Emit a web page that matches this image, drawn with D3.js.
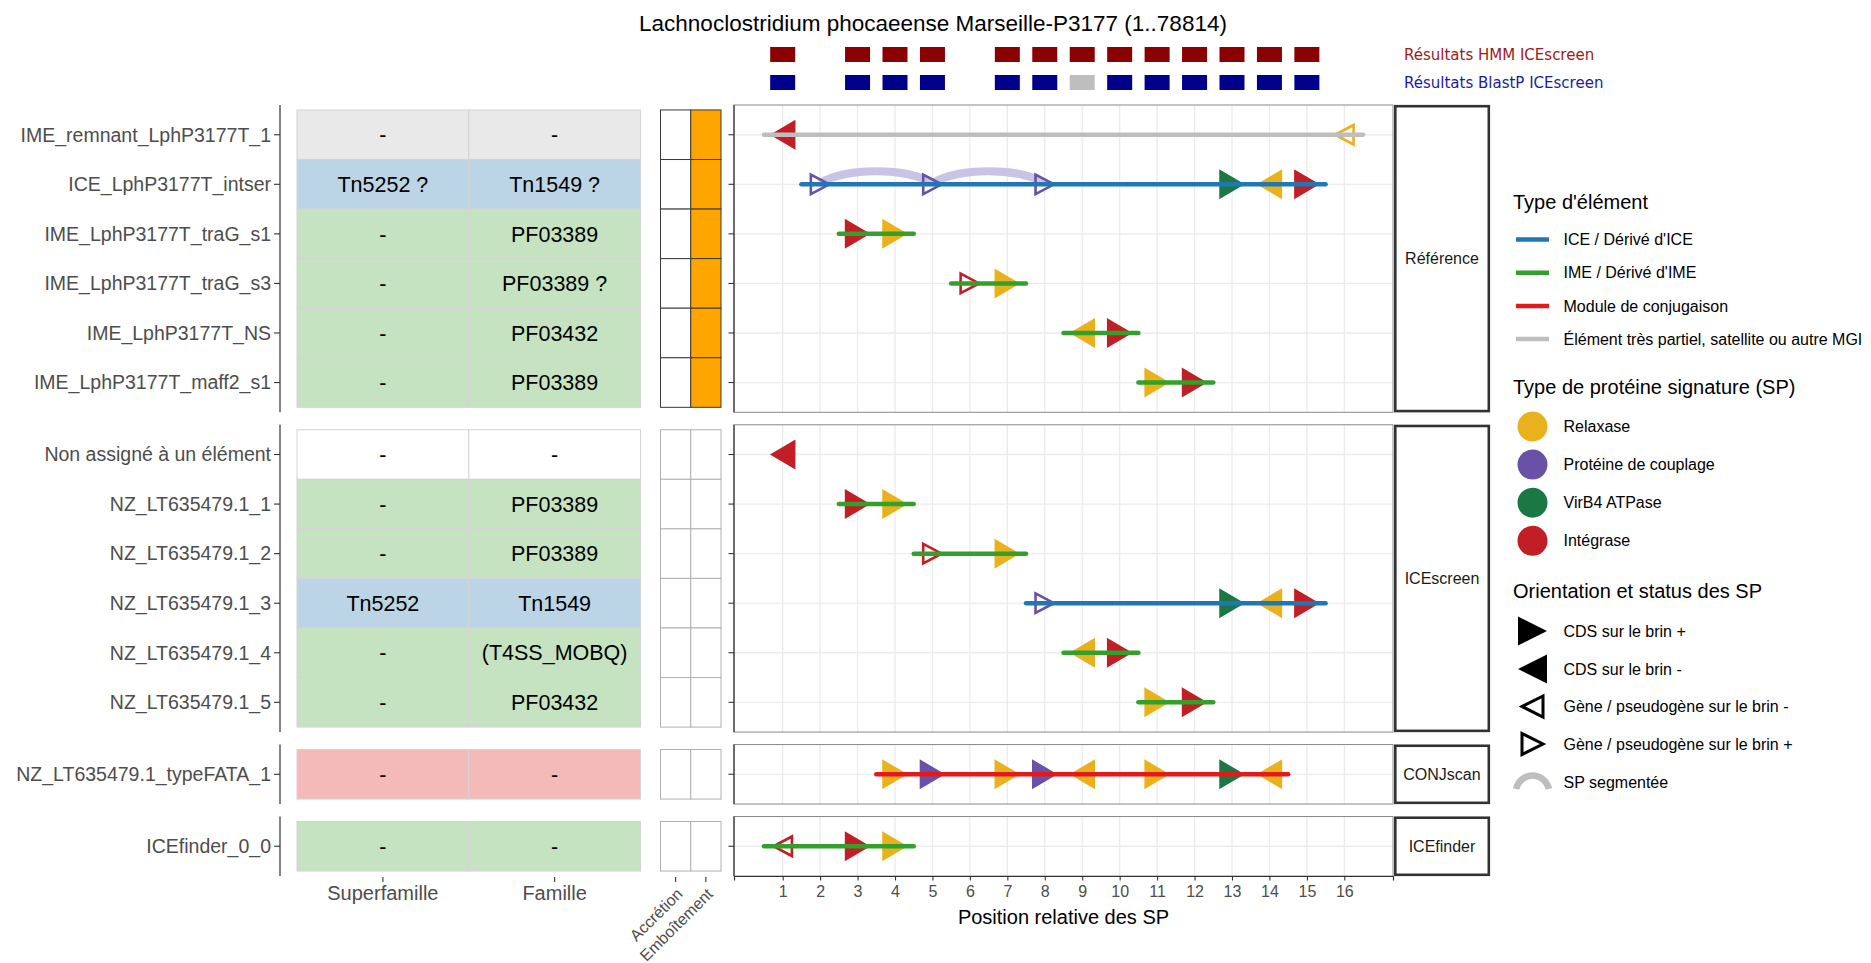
<!DOCTYPE html>
<html><head><meta charset="utf-8">
<script src="https://cdn.jsdelivr.net/npm/d3@7"></script>
<style>
body{margin:0;background:#fff}
svg{display:block}
text{font-family:"Liberation Sans",Arial,Helvetica,sans-serif}
</style>
</head><body>
<svg id="chart" width="1871" height="963"></svg>
<script>
// ---------------- DATA ----------------
const chartTitle = "Lachnoclostridium phocaeense Marseille-P3177 (1..78814)";
const panelNames = ["Référence", "ICEscreen", "CONJscan", "ICEfinder"];

const elementNames = [
  "IME_remnant_LphP3177T_1", "ICE_LphP3177T_intser", "IME_LphP3177T_traG_s1",
  "IME_LphP3177T_traG_s3", "IME_LphP3177T_NS", "IME_LphP3177T_maff2_s1",
  "Non assigné à un élément", "NZ_LT635479.1_1", "NZ_LT635479.1_2",
  "NZ_LT635479.1_3", "NZ_LT635479.1_4", "NZ_LT635479.1_5",
  "NZ_LT635479.1_typeFATA_1", "ICEfinder_0_0"
];
const elementPanels = [
  "Référence","Référence","Référence","Référence","Référence","Référence",
  "ICEscreen","ICEscreen","ICEscreen","ICEscreen","ICEscreen","ICEscreen",
  "CONJscan","ICEfinder"
];
const elementTypes = ["partiel","ICE","IME","IME","IME","IME","aucun","IME","IME","ICE","IME","IME","module","IME"];
const superfamilles = ["-","Tn5252 ?","-","-","-","-","-","-","-","Tn5252","-","-","-","-"];
const familles = ["-","Tn1549 ?","PF03389","PF03389 ?","PF03432","PF03389","-","PF03389","PF03389","Tn1549","(T4SS_MOBQ)","PF03432","-","-"];
const accretion   = [0,0,0,0,0,0, 0,0,0,0,0,0, 0, 0];
const emboitement = [1,1,1,1,1,1, 0,0,0,0,0,0, 0, 0];

const lineStarts = [0.5, 1.5, 2.5, 5.5, 8.5, 10.5, null, 2.5, 4.5, 7.5, 8.5, 10.5, 3.5, 0.5];
const lineEnds   = [16.5, 15.5, 4.5, 7.5, 10.5, 12.5, null, 4.5, 7.5, 15.5, 10.5, 12.5, 14.5, 4.5];

// signature proteins
const spElements  = [0,0, 1,1,1,1,1,1, 2,2, 3,3, 4,4, 5,5, 6, 7,7, 8,8, 9,9,9,9, 10,10, 11,11, 12,12,12,12,12,12,12,12, 13,13,13];
const spPositions = [1,16, 2,5,8,13,14,15, 3,4, 6,7, 9,10, 11,12, 1, 3,4, 5,7, 8,13,14,15, 9,10, 11,12, 4,5,7,8,9,11,13,14, 1,3,4];
const spTypes = [
  "Int","Rel", "Coup","Coup","Coup","VirB4","Rel","Int", "Int","Rel", "Int","Rel", "Rel","Int", "Rel","Int",
  "Int", "Int","Rel", "Int","Rel", "Coup","VirB4","Rel","Int", "Rel","Int", "Rel","Int",
  "Rel","Coup","Rel","Coup","Rel","Rel","VirB4","Rel", "Int","Int","Rel"
];
const spStrands = [
  "-","-", "+","+","+","+","-","+", "+","+", "+","+", "-","+", "+","+",
  "-", "+","+", "+","+", "+","+","-","+", "-","+", "+","+",
  "+","+","+","+","-","+","+","-", "-","+","+"
];
const spStatuses = [
  "CDS","gene", "gene","gene","gene","CDS","CDS","CDS", "CDS","CDS", "gene","CDS", "CDS","CDS", "CDS","CDS",
  "CDS", "CDS","CDS", "gene","CDS", "gene","CDS","CDS","CDS", "CDS","CDS", "CDS","CDS",
  "CDS","CDS","CDS","CDS","CDS","CDS","CDS","CDS", "gene","CDS","CDS"
];
// segmented SP links
const segElements = [1, 1];
const segFrom = [2, 5];
const segTo = [5, 8];

// header
const hmmPositions = [1,3,4,5,7,8,9,10,11,12,13,14,15];
const blastPositions = [1,3,4,5,7,8,9,10,11,12,13,14,15];
const blastFound = [1,1,1,1,1,1,0,1,1,1,1,1,1];
const headerLabels = ["Résultats HMM ICEscreen", "Résultats BlastP ICEscreen"];

const xTickValues = [1,2,3,4,5,6,7,8,9,10,11,12,13,14,15,16];
const xDomain = [0.5, 16.5];
const xAxisTitle = "Position relative des SP";
const tableColumns = ["Superfamille", "Famille"];
const nestColumns = ["Accrétion", "Emboîtement"];

const elementLegendKeys = ["ICE", "IME", "module", "partiel"];
const elementLegendLabels = ["ICE / Dérivé d'ICE", "IME / Dérivé d'IME", "Module de conjugaison", "Élément très partiel, satellite ou autre MGI"];
const spLegendKeys = ["Rel", "Coup", "VirB4", "Int"];
const spLegendLabels = ["Relaxase", "Protéine de couplage", "VirB4 ATPase", "Intégrase"];
const orientLegendLabels = ["CDS sur le brin +", "CDS sur le brin -", "Gène / pseudogène sur le brin -", "Gène / pseudogène sur le brin +", "SP segmentée"];
const legendTitles = ["Type d'élément", "Type de protéine signature (SP)", "Orientation et status des SP"];

// ---------------- STYLES ----------------
const lineColor = {ICE:"#1f78b4", IME:"#33a02c", module:"#e31a1c", partiel:"#bebebe"};
const tileColor = {ICE:"#bcd5e6", IME:"#c5e3c0", module:"#f4b9b9", partiel:"#e9e9e9", aucun:"#ffffff"};
const spColor = {Rel:"#e9b11c", Coup:"#6851a6", VirB4:"#1b7844", Int:"#c11e26"};

const svg = d3.select("#chart");

// ---------------- LAYOUT ----------------
const plotL = 734, plotR = 1393, stripR = 1490;
const topY = 105, botY = 876, gap = 12.5;
const counts = panelNames.map(p => elementPanels.filter(e => e === p).length);
const totalUnits = d3.sum(counts, c => c + 0.2);
const unit = (botY - topY - gap * (panelNames.length - 1)) / totalUnits;

const x = d3.scaleLinear()
  .domain([xDomain[0] - 0.05*(xDomain[1]-xDomain[0]), xDomain[1] + 0.05*(xDomain[1]-xDomain[0])])
  .range([plotL, plotR]);
const colX = d3.scaleBand().domain(tableColumns).range([297, 640.5]);
const nestX = d3.scaleBand().domain(nestColumns).range([660.5, 721]);

let cursor = topY;
const panelGeom = panelNames.map((p, i) => {
  const h = (counts[i] + 0.2) * unit;
  const rows = elementNames.filter((n, j) => elementPanels[j] === p);
  const y = d3.scalePoint().domain(rows).range([cursor, cursor + h]).padding(0.6);
  const g = {name: p, top: cursor, bottom: cursor + h, y, rows};
  cursor += h + gap;
  return g;
});
const yOf = j => panelGeom[panelNames.indexOf(elementPanels[j])].y(elementNames[j]);

function tri(cx, cy, w, h, dir) {
  const x0 = cx - dir * w / 2, x1 = cx + dir * w / 2;
  return `M${x0},${cy - h/2}L${x1},${cy}L${x0},${cy + h/2}Z`;
}

// ---------------- TITLE & HEADER ----------------
svg.append("text").attr("x", 933).attr("y", 23).attr("dy", "0.35em")
  .attr("text-anchor", "middle").attr("font-size", 22.5).attr("fill", "#000").text(chartTitle);

svg.append("g").selectAll("rect").data(hmmPositions).join("rect")
  .attr("x", d => x(d) - 12.5).attr("y", 47).attr("width", 25).attr("height", 15)
  .attr("fill", "#8b0000");
svg.append("g").selectAll("rect").data(blastPositions).join("rect")
  .attr("x", d => x(d) - 12.5).attr("y", 75).attr("width", 25).attr("height", 15)
  .attr("fill", (d, i) => blastFound[i] ? "#00008b" : "#bebebe");
svg.append("text").attr("x", 1404).attr("y", 54.5).attr("dy", "0.35em")
  .attr("font-size", 15).style("font-family", "DejaVu Sans").attr("fill", "#9b1b1b").text(headerLabels[0]);
svg.append("text").attr("x", 1404).attr("y", 82.5).attr("dy", "0.35em")
  .attr("font-size", 15).style("font-family", "DejaVu Sans").attr("fill", "#1c1ca0").text(headerLabels[1]);

// ---------------- TABLE ----------------
panelGeom.forEach((pg, pi) => {
  const g = svg.append("g");
  const idx = elementNames.map((n, j) => j).filter(j => elementPanels[j] === pg.name);
  // tiles
  idx.forEach(j => {
    const yc = yOf(j);
    [superfamilles[j], familles[j]].forEach((val, c) => {
      g.append("rect").attr("x", colX(tableColumns[c])).attr("y", yc - unit/2)
        .attr("width", colX.bandwidth()).attr("height", unit)
        .attr("fill", tileColor[elementTypes[j]]).attr("stroke", "#d4d4d4").attr("stroke-width", 1);
      g.append("text").attr("x", colX(tableColumns[c]) + colX.bandwidth()/2).attr("y", yc)
        .attr("dy", "0.36em").attr("text-anchor", "middle").attr("font-size", 21.5).attr("fill", "#000").text(val);
    });
    [accretion[j], emboitement[j]].forEach((val, c) => {
      g.append("rect").attr("x", nestX(nestColumns[c])).attr("y", yc - unit/2)
        .attr("width", nestX.bandwidth()).attr("height", unit)
        .attr("fill", val ? "#ffa500" : "#fff")
        .attr("stroke", pi === 0 ? "#3a3a3a" : "#b0b0b0").attr("stroke-width", 1);
    });
    // row label + tick
    g.append("text").attr("x", 271).attr("y", yc).attr("dy", "0.35em").attr("text-anchor", "end")
      .attr("font-size", 19.5).attr("fill", "#4d4d4d").text(elementNames[j]);
    g.append("line").attr("x1", 274).attr("x2", 280).attr("y1", yc).attr("y2", yc)
      .attr("stroke", "#333").attr("stroke-width", 1.1);
  });
  g.append("line").attr("x1", 280).attr("x2", 280).attr("y1", pg.top).attr("y2", pg.bottom)
    .attr("stroke", "#333").attr("stroke-width", 1.2);
});
// table bottom labels
tableColumns.forEach(c => {
  const cx = colX(c) + colX.bandwidth()/2;
  svg.append("line").attr("x1", cx).attr("x2", cx).attr("y1", botY + 1).attr("y2", botY + 6).attr("stroke", "#333").attr("stroke-width", 1.1);
  svg.append("text").attr("x", cx).attr("y", 893).attr("dy", "0.35em").attr("text-anchor", "middle")
    .attr("font-size", 20).attr("fill", "#4d4d4d").text(c);
});
nestColumns.forEach(c => {
  const cx = nestX(c) + nestX.bandwidth()/2;
  svg.append("line").attr("x1", cx).attr("x2", cx).attr("y1", botY + 1).attr("y2", botY + 6).attr("stroke", "#333").attr("stroke-width", 1.1);
  svg.append("text").attr("transform", `translate(${cx + 8},${895}) rotate(-45)`)
    .attr("text-anchor", "end").attr("font-size", 16).attr("fill", "#4d4d4d").text(c);
});

// ---------------- MAIN PANELS ----------------
panelGeom.forEach((pg, pi) => {
  const g = svg.append("g");
  g.append("rect").attr("x", plotL).attr("y", pg.top).attr("width", plotR - plotL).attr("height", pg.bottom - pg.top).attr("fill", "#fff");
  // grid
  g.selectAll(".vg").data(xTickValues).join("line")
    .attr("x1", d => x(d)).attr("x2", d => x(d)).attr("y1", pg.top).attr("y2", pg.bottom)
    .attr("stroke", "#ebebeb").attr("stroke-width", 1.3);
  g.selectAll(".hg").data(pg.rows).join("line")
    .attr("x1", plotL).attr("x2", plotR).attr("y1", d => pg.y(d)).attr("y2", d => pg.y(d))
    .attr("stroke", "#ebebeb").attr("stroke-width", 1.3);

  const idx = elementNames.map((n, j) => j).filter(j => elementPanels[j] === pg.name);
  // segmented SP arcs
  segElements.forEach((e, k) => {
    if (!idx.includes(e)) return;
    const yc = yOf(e), x0 = x(segFrom[k]), x1 = x(segTo[k]), d = x1 - x0;
    g.append("path").attr("d", `M${x0},${yc - 1}C${x0 + 0.22*d},${yc - 17} ${x1 - 0.22*d},${yc - 17} ${x1},${yc - 1}`)
      .attr("fill", "none").attr("stroke", "#cbc3e3").attr("stroke-width", 8);
  });
  // SP markers
  spElements.forEach((e, k) => {
    if (!idx.includes(e)) return;
    const yc = yOf(e), cx = x(spPositions[k]), dir = spStrands[k] === "+" ? 1 : -1;
    if (spStatuses[k] === "CDS") {
      g.append("path").attr("d", tri(cx, yc, 25.5, 30, dir)).attr("fill", spColor[spTypes[k]]);
    } else {
      g.append("path").attr("d", tri(cx, yc, 18.5, 19.5, dir)).attr("fill", "none")
        .attr("stroke", spColor[spTypes[k]]).attr("stroke-width", 2.6);
    }
  });
  // element lines
  idx.forEach(j => {
    if (lineStarts[j] === null) return;
    g.append("line").attr("x1", x(lineStarts[j])).attr("x2", x(lineEnds[j])).attr("y1", yOf(j)).attr("y2", yOf(j))
      .attr("stroke", lineColor[elementTypes[j]]).attr("stroke-width", 4.5).attr("stroke-linecap", "round");
  });
  // border
  g.append("rect").attr("x", plotL).attr("y", pg.top).attr("width", plotR - plotL).attr("height", pg.bottom - pg.top)
    .attr("fill", "none").attr("stroke", "#8a8a8a").attr("stroke-width", 1);
  g.append("line").attr("x1", plotL).attr("x2", plotL).attr("y1", pg.top).attr("y2", pg.bottom).attr("stroke", "#333").attr("stroke-width", 1.2);
  g.selectAll(".yt").data(pg.rows).join("line")
    .attr("x1", plotL - 5.5).attr("x2", plotL).attr("y1", d => pg.y(d)).attr("y2", d => pg.y(d))
    .attr("stroke", "#333").attr("stroke-width", 1.1);
  // strip
  g.append("rect").attr("x", plotR + 2.3).attr("y", pg.top + 1.2).attr("width", stripR - plotR - 3.5).attr("height", pg.bottom - pg.top - 2.4)
    .attr("fill", "#fff").attr("stroke", "#333").attr("stroke-width", 2.6);
  g.append("text").attr("x", (plotR + stripR)/2 + 0.5).attr("y", (pg.top + pg.bottom)/2).attr("dy", "0.35em")
    .attr("text-anchor", "middle").attr("font-size", 16).attr("fill", "#1a1a1a").text(pg.name);
});

// x axis
const xAxisG = svg.append("g").attr("transform", `translate(0,${botY})`)
  .call(d3.axisBottom(x).tickValues(xTickValues).tickSize(4.5).tickPadding(5).tickFormat(d3.format("d")));
xAxisG.select(".domain").attr("stroke", "#333").attr("stroke-width", 1.2);
xAxisG.selectAll(".tick line").attr("stroke", "#333").attr("stroke-width", 1.1);
xAxisG.selectAll(".tick text").attr("font-size", 16).attr("fill", "#4d4d4d").style("font-family", "Liberation Sans, Arial, sans-serif");
svg.append("text").attr("x", (plotL + plotR)/2).attr("y", 917).attr("dy", "0.35em").attr("text-anchor", "middle")
  .attr("font-size", 20).attr("fill", "#000").text(xAxisTitle);

// ---------------- LEGEND ----------------
const lg = svg.append("g");
const legX = 1513, keyX = 1532.5, labX = 1563.5;
lg.append("text").attr("x", legX).attr("y", 202).attr("dy", "0.35em").attr("font-size", 20).text(legendTitles[0]);
elementLegendKeys.forEach((k, i) => {
  const yy = 239.5 + i * 33.2;
  lg.append("line").attr("x1", 1516).attr("x2", 1549).attr("y1", yy).attr("y2", yy).attr("stroke", lineColor[k]).attr("stroke-width", 4.5);
  lg.append("text").attr("x", labX).attr("y", yy).attr("dy", "0.35em").attr("font-size", 16).text(elementLegendLabels[i]);
});
lg.append("text").attr("x", legX).attr("y", 387).attr("dy", "0.35em").attr("font-size", 20).text(legendTitles[1]);
spLegendKeys.forEach((k, i) => {
  const yy = 426.5 + i * 38.1;
  lg.append("circle").attr("cx", keyX).attr("cy", yy).attr("r", 15).attr("fill", spColor[k]);
  lg.append("text").attr("x", labX).attr("y", yy).attr("dy", "0.35em").attr("font-size", 16).text(spLegendLabels[i]);
});
lg.append("text").attr("x", legX).attr("y", 591).attr("dy", "0.35em").attr("font-size", 20).text(legendTitles[2]);
const oy = [631, 669, 706.5, 744, 782];
lg.append("path").attr("d", tri(keyX, oy[0], 29, 29, 1)).attr("fill", "#000");
lg.append("path").attr("d", tri(keyX, oy[1], 29, 29, -1)).attr("fill", "#000");
lg.append("path").attr("d", tri(keyX, oy[2], 21, 21, -1)).attr("fill", "none").attr("stroke", "#000").attr("stroke-width", 3);
lg.append("path").attr("d", tri(keyX, oy[3], 21, 21, 1)).attr("fill", "none").attr("stroke", "#000").attr("stroke-width", 3);
lg.append("path").attr("d", `M1516,${oy[4] + 7}C1521,${oy[4] - 11} 1544,${oy[4] - 11} 1549,${oy[4] + 7}`)
  .attr("fill", "none").attr("stroke", "#bebebe").attr("stroke-width", 6.5);
orientLegendLabels.forEach((t, i) => {
  lg.append("text").attr("x", labX).attr("y", oy[i]).attr("dy", "0.35em").attr("font-size", 16).text(t);
});
</script>
</body></html>
